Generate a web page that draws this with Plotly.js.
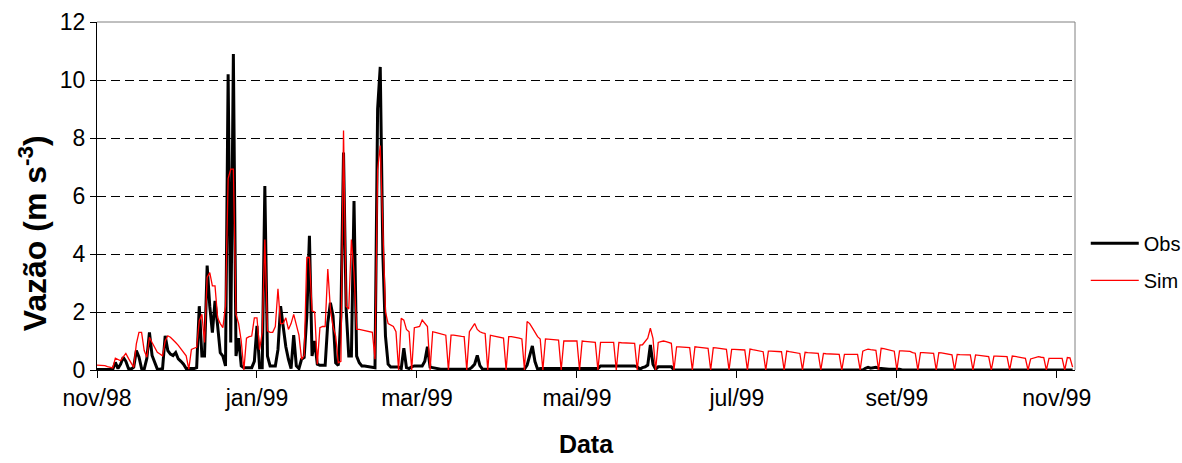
<!DOCTYPE html>
<html>
<head>
<meta charset="utf-8">
<script src="https://cdn.plot.ly/plotly-3.0.1.min.js"></script>
<style>
  html, body { margin: 0; padding: 0; background: #ffffff; }
  #chart { width: 1182px; height: 463px; }
</style>
</head>
<body>
<div id="chart"></div>
<script>
// ---- data (daily values from 1998-11-01) ----
const startDate = '1998-11-01';

const obs = [
  0.02, 0.02, 0.03, 0.03, 0.02, 0.02, 0.02,
  0.26, 0.05, 0.20, 0.44, 0.30, 0.05, 0.03,
  0.10, 0.67, 0.45, 0.05, 0.03, 0.40, 1.30,
  0.50, 0.26, 0.03, 0.03, 0.05, 1.18, 0.67,
  0.55, 0.50, 0.60, 0.38, 0.30, 0.20, 0.05,
  0.05, 0.05, 0.05, 0.08, 2.20, 0.48, 0.48,
  3.60, 2.20, 1.29, 2.38, 1.52, 0.60, 0.48,
  0.14, 10.2, 0.95, 10.9, 0.48, 1.10, 0.14,
  0.08, 0.08, 0.08, 0.08, 0.30, 1.52, 0.08,
  0.08, 6.34, 0.48, 0.14, 0.14, 0.14, 0.70,
  2.20, 1.50, 0.80, 0.37, 0.05, 1.20, 0.14,
  0.05, 0.37, 0.43, 1.86, 4.63, 0.48, 1.00,
  0.20, 0.16, 0.16, 0.16, 1.63, 2.32, 1.86,
  0.25, 0.16, 1.86, 7.50, 2.10, 0.48, 0.48,
  5.83, 0.48, 0.25, 0.14, 0.14, 0.12, 0.12,
  0.10, 0.08, 9.00, 10.45, 4.00, 1.17, 0.20,
  0.10, 0.10, 0.10, 0.10, 0.05, 0.75, 0.08,
  0.05, 0.11, 0.14, 0.14, 0.14, 0.14, 0.30,
  0.80, 0.10, 0.08, 0.06, 0.03, 0.03, 0.03,
  0.03, 0.03, 0.03, 0.03, 0.03, 0.03, 0.03,
  0.03, 0.03, 0.03, 0.10, 0.20, 0.50, 0.15,
  0.03, 0.03, 0.03, 0.03, 0.03, 0.03, 0.03,
  0.03, 0.03, 0.03, 0.03, 0.03, 0.03, 0.03,
  0.03, 0.03, 0.03, 0.17, 0.50, 0.83, 0.29,
  0.03, 0.05, 0.05, 0.05, 0.05, 0.05, 0.05,
  0.05, 0.05, 0.05, 0.05, 0.05, 0.05, 0.05,
  0.05, 0.05, 0.05, 0.05, 0.05, 0.05, 0.05,
  0.05, 0.05, 0.05, 0.14, 0.14, 0.14, 0.14,
  0.14, 0.14, 0.14, 0.14, 0.14, 0.14, 0.14,
  0.14, 0.14, 0.14, 0.11, 0.03, 0.08, 0.11,
  0.17, 0.86, 0.20, 0.03, 0.11, 0.11, 0.11,
  0.11, 0.11, 0.11, 0.00, 0.00, 0.00, 0.00,
  0.00, 0.00, 0.00, 0.00, 0.00, 0.00, 0.00,
  0.00, 0.00, 0.00, 0.00, 0.00, 0.00, 0.00,
  0.00, 0.00, 0.00, 0.00, 0.00, 0.00, 0.00,
  0.00, 0.00, 0.00, 0.00, 0.00, 0.00, 0.00,
  0.00, 0.00, 0.00, 0.00, 0.00, 0.00, 0.00,
  0.00, 0.00, 0.00, 0.00, 0.00, 0.00, 0.00,
  0.00, 0.00, 0.00, 0.00, 0.00, 0.00, 0.00,
  0.00, 0.00, 0.00, 0.00, 0.00, 0.00, 0.00,
  0.00, 0.00, 0.00, 0.00, 0.00, 0.00, 0.00,
  0.00, 0.00, 0.00, 0.00, 0.00, 0.00, 0.06,
  0.09, 0.06, 0.08, 0.09, 0.06, 0.05, 0.03,
  0.03, 0.03, 0.03, 0.03, 0.03, 0.03, 0.00,
  0.00, 0.00, 0.00, 0.00, 0.00, 0.00, 0.00,
  0.00, 0.00, 0.00, 0.00, 0.00, 0.00, 0.00,
  0.00, 0.00, 0.00, 0.00, 0.00, 0.00, 0.00,
  0.00, 0.00, 0.00, 0.00, 0.00, 0.00, 0.00,
  0.00, 0.00, 0.00, 0.00, 0.00, 0.00, 0.00,
  0.00, 0.00, 0.00, 0.00, 0.00, 0.00, 0.00,
  0.00, 0.00, 0.00, 0.00, 0.00, 0.00, 0.00,
  0.00, 0.00, 0.00, 0.00, 0.00, 0.00, 0.00,
  0.00, 0.00, 0.00, 0.00, 0.00, 0.00, 0.00,
  0.00, 0.00
];

const sim = [
  0.17, 0.17, 0.15, 0.15, 0.12, 0.10, 0.07,
  0.41, 0.35, 0.32, 0.45, 0.57, 0.40, 0.25,
  0.09, 0.90, 1.30, 1.30, 0.67, 0.44, 1.13,
  0.95, 0.80, 0.61, 0.55, 0.49, 1.00, 1.18,
  1.13, 1.05, 0.95, 0.85, 0.72, 0.60, 0.49,
  0.03, 0.71, 0.75, 0.78, 1.70, 1.92, 0.95,
  3.20, 3.36, 2.90, 2.90, 1.80, 1.60, 1.46,
  2.20, 6.60, 6.93, 6.93, 1.92, 1.60, 1.00,
  0.00, 1.10, 1.15, 1.17, 1.80, 1.80, 0.70,
  1.30, 4.50, 1.35, 1.30, 1.30, 1.50, 2.80,
  1.60, 1.60, 1.80, 1.40, 1.60, 1.92, 1.50,
  1.20, 0.37, 0.50, 3.88, 3.88, 2.04, 2.00,
  0.20, 1.46, 1.50, 1.50, 3.48, 2.10, 1.50,
  1.17, 0.25, 0.30, 8.26, 2.20, 2.10, 4.50,
  3.36, 1.40, 1.40, 1.38, 1.35, 1.33, 1.30,
  1.30, 0.37, 6.90, 7.74, 4.75, 2.00, 1.60,
  1.55, 1.50, 1.32, 0.00, 1.78, 1.72, 1.40,
  1.32, 0.00, 1.46, 1.48, 1.50, 1.72, 1.60,
  1.50, 0.00, 1.32, 1.30, 1.28, 1.26, 1.23,
  1.20, 0.00, 1.20, 1.20, 1.18, 1.17, 1.16,
  1.15, 0.00, 1.32, 1.45, 1.60, 1.40, 1.32,
  1.28, 1.26, 0.00, 1.20, 1.18, 1.16, 1.14,
  1.12, 1.10, 0.00, 1.15, 1.15, 1.14, 1.12,
  1.10, 1.07, 0.00, 1.67, 1.60, 1.45, 1.32,
  1.15, 1.07, 0.00, 1.07, 1.06, 1.05, 1.04,
  1.03, 1.03, 0.00, 1.00, 1.00, 1.00, 1.00,
  1.00, 1.00, 0.00, 1.00, 0.99, 0.98, 0.97,
  0.96, 0.95, 0.00, 0.95, 0.95, 0.95, 0.95,
  0.95, 0.95, 0.00, 0.95, 0.94, 0.94, 0.93,
  0.93, 0.92, 0.92, 0.00, 0.86, 0.87, 1.00,
  1.10, 1.44, 1.09, 0.00, 0.95, 0.98, 1.00,
  0.98, 0.95, 0.92, 0.00, 0.80, 0.80, 0.79,
  0.78, 0.77, 0.77, 0.00, 0.80, 0.79, 0.78,
  0.77, 0.76, 0.75, 0.00, 0.77, 0.76, 0.75,
  0.74, 0.72, 0.71, 0.00, 0.71, 0.71, 0.70,
  0.70, 0.69, 0.69, 0.00, 0.72, 0.70, 0.68,
  0.66, 0.64, 0.63, 0.00, 0.65, 0.65, 0.65,
  0.64, 0.64, 0.63, 0.00, 0.65, 0.63, 0.62,
  0.60, 0.58, 0.57, 0.00, 0.61, 0.60, 0.59,
  0.58, 0.57, 0.57, 0.00, 0.57, 0.56, 0.56,
  0.55, 0.55, 0.54, 0.54, 0.00, 0.54, 0.54,
  0.54, 0.54, 0.54, 0.54, 0.00, 0.65, 0.69,
  0.72, 0.70, 0.69, 0.68, 0.00, 0.75, 0.74,
  0.72, 0.70, 0.68, 0.65, 0.00, 0.66, 0.66,
  0.66, 0.66, 0.64, 0.60, 0.58, 0.00, 0.60,
  0.60, 0.59, 0.58, 0.57, 0.57, 0.00, 0.60,
  0.59, 0.57, 0.55, 0.53, 0.52, 0.00, 0.54,
  0.53, 0.52, 0.52, 0.52, 0.52, 0.00, 0.52,
  0.51, 0.50, 0.49, 0.47, 0.46, 0.00, 0.48,
  0.48, 0.48, 0.47, 0.46, 0.46, 0.00, 0.48,
  0.47, 0.46, 0.44, 0.42, 0.40, 0.00, 0.38,
  0.40, 0.44, 0.46, 0.44, 0.43, 0.00, 0.40,
  0.40, 0.40, 0.40, 0.40, 0.40, 0.00, 0.43,
  0.42, 0.10
];

const tickDates = ['1998-11-01', '1999-01-01', '1999-03-03', '1999-05-03', '1999-07-03', '1999-09-02', '1999-11-02'];
const tickLabels = ['nov/98', 'jan/99', 'mar/99', 'mai/99', 'jul/99', 'set/99', 'nov/99'];
const seriesNames = ['Obs', 'Sim'];

// daily date axis built from the start date
function dayList(start, n) {
  const p = start.split('-').map(Number);
  const out = [];
  for (let i = 0; i < n; i++) {
    out.push(new Date(Date.UTC(p[0], p[1] - 1, p[2] + i)).toISOString().slice(0, 10));
  }
  return out;
}
const dates = dayList(startDate, Math.max(obs.length, sim.length));

const FONT = 'Liberation Sans, Arial, Helvetica, sans-serif';

const traces = [
  { x: dates.slice(0, obs.length), y: obs, name: seriesNames[0], type: 'scatter', mode: 'lines',
    line: { color: '#000000', width: 3 }, legendgroup: 'g1', hoverinfo: 'x+y' },
  { x: dates.slice(0, sim.length), y: sim, name: seriesNames[1], type: 'scatter', mode: 'lines',
    line: { color: '#ff0000', width: 1.3 }, legendgroup: 'g2', hoverinfo: 'x+y' }
];

const layout = {
  width: 1182, height: 463,
  margin: { l: 97, r: 107, t: 22, b: 93, pad: 0, autoexpand: false },
  paper_bgcolor: '#ffffff', plot_bgcolor: '#ffffff',
  font: { family: FONT, color: '#000000' },
  showlegend: true,
  legend: {
    x: 1.011, xanchor: 'left', y: 0.42, yanchor: 'top',
    font: { family: FONT, size: 20, color: '#000000' },
    bgcolor: 'rgba(0,0,0,0)', borderwidth: 0,
    tracegroupgap: 8, traceorder: 'grouped', itemwidth: 48
  },
  xaxis: {
    type: 'date',
    range: ['1998-11-01', '1999-11-08 22:00'],
    tickmode: 'array', tickvals: tickDates, ticktext: tickLabels,
    ticks: 'outside', ticklen: 7, tickwidth: 1, tickcolor: '#000000',
    showline: true, linecolor: '#000000', linewidth: 1,
    showgrid: false, zeroline: false,
    tickfont: { family: FONT, size: 23, color: '#000000' },
    title: { text: '<b>Data</b>', standoff: 25, font: { family: FONT, size: 25, color: '#000000' } },
    automargin: false,
    fixedrange: true
  },
  yaxis: {
    range: [0, 12], tick0: 0, dtick: 2,
    ticks: 'outside', ticklen: 6, tickwidth: 1, tickcolor: '#000000',
    showline: true, linecolor: '#000000', linewidth: 1,
    showgrid: true, gridcolor: '#000000', gridwidth: 1, griddash: '9px,5px',
    zeroline: false,
    tickfont: { family: FONT, size: 23, color: '#000000' },
    automargin: false,
    fixedrange: true
  },
  shapes: [
    { type: 'line', xref: 'paper', yref: 'paper', x0: 0, x1: 1, y0: 1, y1: 1,
      line: { color: '#808080', width: 1 } },
    { type: 'line', xref: 'paper', yref: 'paper', x0: 1, x1: 1, y0: 0, y1: 1,
      line: { color: '#808080', width: 1 } }
  ],
  annotations: [
    { text: '<b>Vazão (m s<sup>-3</sup>)</b>', xref: 'paper', yref: 'paper',
      x: -0.066, y: 0.394, xanchor: 'center', yanchor: 'middle', textangle: -90,
      showarrow: false, font: { family: FONT, size: 32, color: '#000000' } }
  ]
};

Plotly.newPlot('chart', traces, layout, { displayModeBar: false, staticPlot: true });
</script>
</body>
</html>
